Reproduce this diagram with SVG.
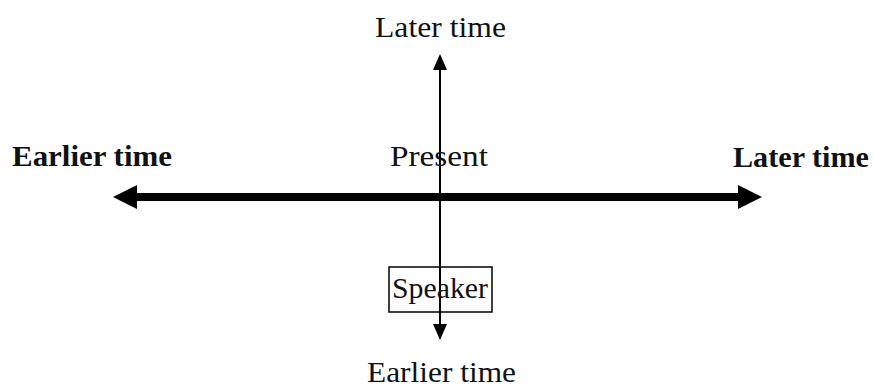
<svg xmlns="http://www.w3.org/2000/svg" width="873" height="390" viewBox="0 0 873 390">
  <style>
    text { font-family: "Liberation Serif", "Times New Roman", serif; font-size: 29px; fill: #111; }
    .b { font-weight: bold; }
    .axis { stroke: #000; fill: none; }
  </style>
  <defs>
    <marker id="headBig" viewBox="0 0 24 24" refX="0" refY="12" markerWidth="24" markerHeight="24" markerUnits="userSpaceOnUse" orient="auto">
      <path d="M0,0 L24,12 L0,24 Z" fill="#000"/>
    </marker>
    <marker id="headSmall" viewBox="0 0 16 14" refX="0" refY="7" markerWidth="16" markerHeight="14" markerUnits="userSpaceOnUse" orient="auto">
      <path d="M0,0 L16,7 L0,14 Z" fill="#000"/>
    </marker>
  </defs>

  <g id="connectors">
    <!-- horizontal time line, arrowheads at both ends -->
    <line class="axis" x1="137" y1="197" x2="738" y2="197" stroke-width="8" marker-end="url(#headBig)"/>
    <line class="axis" x1="440" y1="197" x2="137" y2="197" stroke-width="8" marker-end="url(#headBig)"/>
    <!-- vertical time line -->
    <line class="axis" x1="440" y1="200" x2="440" y2="70" stroke-width="2" marker-end="url(#headSmall)"/>
    <line class="axis" x1="440" y1="195" x2="440" y2="324" stroke-width="2" marker-end="url(#headSmall)"/>
  </g>

  <g id="later-top">
    <text x="375" y="37" textLength="131" lengthAdjust="spacingAndGlyphs">Later time</text>
  </g>
  <g id="earlier-left">
    <text class="b" x="12" y="166" textLength="160" lengthAdjust="spacingAndGlyphs">Earlier time</text>
  </g>
  <g id="present">
    <text x="390" y="166" textLength="98" lengthAdjust="spacingAndGlyphs">Present</text>
  </g>
  <g id="later-right">
    <text class="b" x="733" y="167" textLength="136" lengthAdjust="spacingAndGlyphs">Later time</text>
  </g>
  <g id="speaker">
    <rect x="389" y="267" width="103" height="45" fill="none" stroke="#000" stroke-width="1.5"/>
    <text x="392" y="298" textLength="96" lengthAdjust="spacingAndGlyphs">Speaker</text>
  </g>
  <g id="earlier-bottom">
    <text x="367" y="382" textLength="149" lengthAdjust="spacingAndGlyphs">Earlier time</text>
  </g>
</svg>
